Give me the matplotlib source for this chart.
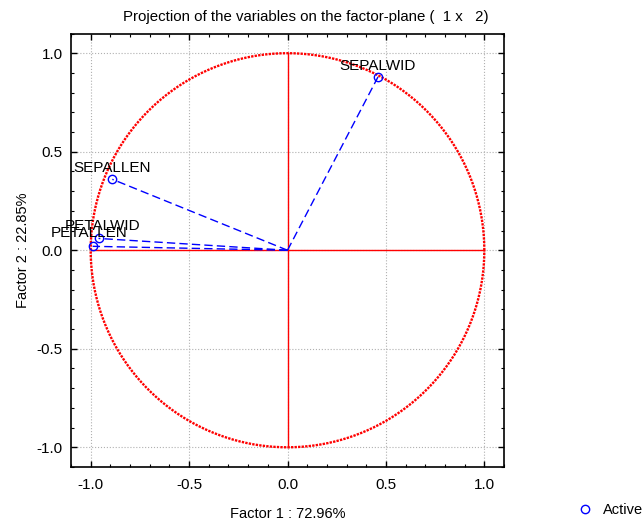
import numpy as np
import matplotlib
matplotlib.use("Agg")
import matplotlib.pyplot as plt
from matplotlib.ticker import MultipleLocator

plt.rcParams['font.family'] = ['Liberation Sans', 'DejaVu Sans']

variables = ["SEPALLEN", "SEPALWID", "PETALLEN", "PETALWID"]
factor1 = [-0.89, 0.46, -0.99, -0.96]
factor2 = [0.36, 0.88, 0.02, 0.06]
label_dx = [0.0, 0.0, -0.02, 0.02]
label_dy = [0.022, 0.022, 0.03, 0.03]

fig = plt.figure(figsize=(6.43, 5.21), dpi=100)
ax = fig.add_axes([71/643, 1-467/521, (504-71)/643, (467-33.5)/521])

ax.set_xlim(-1.1, 1.1)
ax.set_ylim(-1.1, 1.1)

# unit circle
t = np.linspace(0, 2*np.pi, 721)
ax.plot(np.cos(t), np.sin(t), color='red', lw=1.7, ls=(0, (1, 0.5)), zorder=2)
ax.plot([-1, 1], [0, 0], color='red', lw=1, zorder=2)
ax.plot([0, 0], [-1, 1], color='red', lw=1, zorder=2)

for x, y in zip(factor1, factor2):
    ax.plot([0, x], [0, y], color='blue', lw=1, ls=(0, (6, 3)), zorder=3)
ax.plot(factor1, factor2, 'o', mfc='none', mec='blue', ms=6, mew=1, zorder=4, label='Active')

for name, x, y, dx, dy in zip(variables, factor1, factor2, label_dx, label_dy):
    ax.text(x + dx, y + dy, name, ha='center', va='bottom', fontsize=11, color='black', zorder=5)

ax.xaxis.set_minor_locator(MultipleLocator(0.1))
ax.yaxis.set_minor_locator(MultipleLocator(0.1))
ax.set_xticks([-1.0, -0.5, 0.0, 0.5, 1.0])
ax.set_yticks([-1.0, -0.5, 0.0, 0.5, 1.0])
ax.set_xticklabels(["-1.0", "-0.5", "0.0", "0.5", "1.0"])
ax.set_yticklabels(["-1.0", "-0.5", "0.0", "0.5", "1.0"])
ax.tick_params(which='both', direction='in', top=True, right=True, labelsize=11)
ax.tick_params(which='major', length=4, width=1)
ax.tick_params(which='minor', length=2, width=0.8)
ax.tick_params(axis='x', pad=8)
ax.tick_params(axis='y', pad=6)
ax.grid(True, which='major', color='#b0b0b0', ls=':', lw=0.8, zorder=0)
for s in ax.spines.values():
    s.set_linewidth(1.2)

fig.text(306/643, 1-17/521, "Projection of the variables on the factor-plane (  1 x   2)",
         fontsize=10.8, ha='center', va='center')
ax.set_xlabel("Factor 1 : 72.96%", fontsize=10.5, labelpad=11)
ax.set_ylabel("Factor 2 : 22.85%", fontsize=10.5, labelpad=5)

fig.legend(loc='center left', bbox_to_anchor=(568/643, 1-510/521), frameon=False, fontsize=10.5,
           handletextpad=0.5, borderaxespad=0.0, handlelength=1.5)

fig.savefig("out.png", dpi=100)
